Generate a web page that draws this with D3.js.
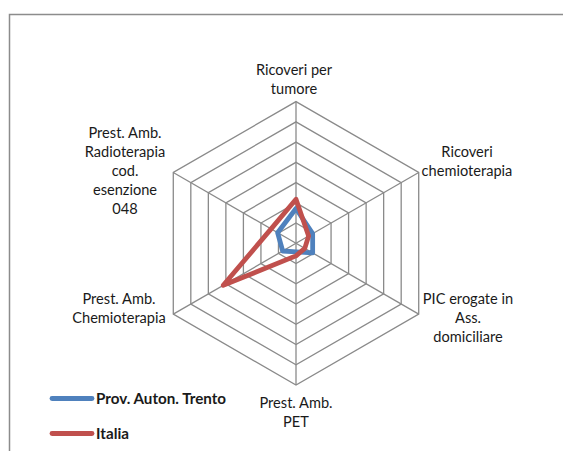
<!DOCTYPE html>
<meta charset="utf-8">
<script src="https://d3js.org/d3.v7.min.js"></script>
<style>
body { margin: 0; background: #fff; }
text { font-family: Lato, "Open Sans", sans-serif; fill: #1a1a1a; }
</style>
<body></body>
<script>

// data
var axes = [
  ["Ricoveri per", "tumore"],
  ["Ricoveri", "chemioterapia"],
  ["PIC erogate in", "Ass.", "domiciliare"],
  ["Prest. Amb.", "PET"],
  ["Prest. Amb.", "Chemioterapia"],
  ["Prest. Amb.", "Radioterapia", "cod.", "esenzione", "048"]
];
var seriesNames = ["Prov. Auton. Trento", "Italia"];
var trento = [1.72, 0.95, 0.95, 0.42, 0.76, 1.05];
var italia = [2.18, 0.72, 0.5, 0.62, 4.15, 1.42];
var gridTicks = [1, 2, 3, 4, 5, 6, 7];

var width = 563, height = 451;
var cx = 296, cy = 243.3, R = 141.7;
var colors = ["#4F81BD", "#C0504D"];

// label anchors (center x, first line y) per axis
var labelPos = [[294, 70], [467, 152], [468, 299], [296, 403], [119, 299], [125, 133]];
var lineGap = 19;

var svg = d3.select("body").append("svg")
    .attr("width", width)
    .attr("height", height);

// outer border of the chart area
svg.append("path")
    .attr("d", "M9.5," + height + "V14.5H" + width)
    .attr("fill", "none")
    .attr("stroke", "#8c8c8c")
    .attr("stroke-width", 1.5);

var rScale = d3.scaleLinear().domain([0, 7]).range([0, R]);
var angle = function(i) { return i * 2 * Math.PI / axes.length; };

var g = svg.append("g").attr("transform", "translate(" + cx + "," + cy + ")");

var radial = d3.lineRadial()
    .angle(function(d, i) { return angle(i); })
    .radius(function(d) { return rScale(d); })
    .curve(d3.curveLinearClosed);

// hexagon rings
g.selectAll(".ring")
    .data(gridTicks)
  .enter().append("path")
    .attr("class", "ring")
    .attr("d", function(t) { return radial(axes.map(function() { return t; })); })
    .attr("fill", "none")
    .attr("stroke", "#8a8a8a")
    .attr("stroke-width", 1.3);

// spokes
g.selectAll(".spoke")
    .data(axes)
  .enter().append("line")
    .attr("class", "spoke")
    .attr("x1", 0).attr("y1", 0)
    .attr("x2", function(d, i) { return rScale(7) * Math.sin(angle(i)); })
    .attr("y2", function(d, i) { return -rScale(7) * Math.cos(angle(i)); })
    .attr("stroke", "#8a8a8a")
    .attr("stroke-width", 1.3);

// series
g.selectAll(".series")
    .data([trento, italia])
  .enter().append("path")
    .attr("class", "series")
    .attr("d", radial)
    .attr("fill", "none")
    .attr("stroke", function(d, i) { return colors[i]; })
    .attr("stroke-width", 4.8)
    .attr("stroke-linejoin", "round");

// axis labels
axes.forEach(function(lines, i) {
  var t = svg.append("text")
      .attr("text-anchor", "middle")
      .attr("font-size", 14.6);
  lines.forEach(function(s, j) {
    t.append("tspan")
        .attr("x", labelPos[i][0])
        .attr("y", labelPos[i][1] + j * lineGap)
        .attr("dy", "0.35em")
        .text(s);
  });
});

// legend
var legend = svg.selectAll(".legend")
    .data(seriesNames)
  .enter().append("g")
    .attr("class", "legend")
    .attr("transform", function(d, i) { return "translate(0," + (398.5 + i * 35) + ")"; });

legend.append("line")
    .attr("x1", 52).attr("x2", 92)
    .attr("stroke", function(d, i) { return colors[i]; })
    .attr("stroke-width", 4.8)
    .attr("stroke-linecap", "round");

legend.append("text")
    .attr("x", 96)
    .attr("dy", "0.35em")
    .attr("font-size", 15.2)
    .attr("font-weight", "bold")
    .text(function(d) { return d; });

</script>
